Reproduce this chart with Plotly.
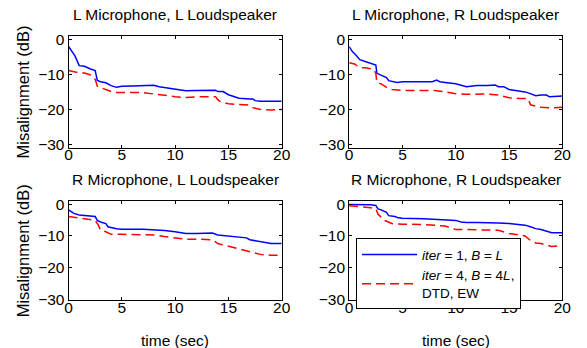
import plotly.graph_objects as go

# ---- data (time in sec, misalignment in dB) ----
t_ll_a = [0, 0.3, 0.6, 1, 1.5, 2, 2.5, 2.7, 3, 3.5, 4, 4.5, 5, 6, 7, 8, 8.5, 9, 10, 11, 12, 13, 13.8, 14, 14.5, 15, 15.5, 16, 17, 17.3, 17.5, 18, 19, 20]
v_ll_a = [-2, -3.3, -4.7, -7.5, -7.7, -8.4, -8.9, -11.7, -12.1, -12.4, -13.2, -13.7, -13.4, -13.3, -13.3, -13.1, -13.5, -13.7, -14.3, -14.7, -14.6, -14.5, -14.5, -14.9, -14.9, -15.8, -16.4, -16.8, -17, -17, -17.5, -17.7, -17.7, -17.7]
t_ll_b = [0, 0.5, 1, 1.5, 2, 2.3, 2.5, 2.7, 3, 3.5, 4, 4.5, 5, 7, 8, 9, 9.5, 10, 11, 12, 13, 13.8, 14, 14.3, 15, 16, 17, 17.3, 18, 19, 20]
v_ll_b = [-8.9, -9.2, -9.6, -9.6, -10.1, -10.7, -11.4, -13.4, -13.8, -14.4, -14.9, -15.2, -15.2, -15.2, -15.6, -15.8, -16.1, -16.4, -16.6, -16.4, -16.4, -16.4, -17.2, -17.9, -18.4, -18.6, -18.8, -19.5, -20, -20.2, -20]

t_lr_a = [0, 0.3, 0.6, 1, 1.5, 2, 2.5, 2.6, 3, 3.5, 3.7, 4.5, 5, 6, 7, 7.8, 8.2, 8.5, 9, 10, 11, 12, 13, 13.7, 14, 14.5, 15, 16, 16.5, 17, 17.5, 18, 18.5, 18.8, 20]
v_lr_a = [-2.1, -3.5, -4.4, -5.8, -6.3, -6.9, -7.3, -9.7, -10.2, -10.9, -11.8, -12.3, -12.1, -12.1, -12.1, -12.1, -11.6, -12.1, -12.3, -12.7, -13.5, -13.2, -13.2, -13.0, -13.5, -13.5, -14.3, -14.8, -15, -15.5, -16.1, -15.9, -15.9, -16.4, -16.2]
t_lr_b = [0, 0.5, 1, 1.5, 2, 2.3, 2.5, 2.6, 3, 3.6, 4, 5, 6, 7, 8, 9, 10, 11, 12, 13, 14, 14.3, 15, 16, 16.8, 17, 18, 19, 20]
v_lr_b = [-6.7, -7, -8.1, -8.1, -8.4, -8.6, -9.7, -12.3, -12.7, -13.9, -14.3, -14.6, -14.6, -14.6, -14.6, -15, -15.5, -15.7, -15.7, -15.6, -15.9, -16.2, -16.7, -16.9, -16.9, -18.7, -19.4, -19.6, -19.4]

t_rl_a = [0, 0.5, 1, 2, 2.5, 2.7, 3, 3.5, 3.7, 4.5, 5, 7, 8, 9, 10, 11, 12, 13, 13.5, 14, 15, 16, 16.7, 17, 18, 19, 20]
v_rl_a = [-1.8, -2.9, -3.4, -3.6, -3.9, -5.1, -5.6, -6.1, -7.1, -7.7, -7.9, -7.9, -8, -8.3, -8.7, -9.2, -9.2, -9.1, -9.1, -9.7, -10, -10.4, -10.6, -11.2, -11.7, -12.4, -12.4]
t_rl_b = [0, 1, 1.5, 2, 2.5, 2.8, 3, 3.5, 4, 5, 7, 8, 9, 10, 11, 12, 13, 13.5, 14, 15, 16, 17, 17.5, 18, 19, 20]
v_rl_b = [-3.9, -4.3, -4.6, -4.9, -5.1, -6.6, -8.2, -8.7, -9.5, -9.5, -9.5, -9.7, -10.2, -10.7, -11, -11, -11, -11.2, -12.4, -13.3, -14.1, -15, -15.5, -15.8, -16.1, -16.1]

t_rr_a = [0, 1, 2, 2.5, 2.7, 3, 3.5, 3.7, 4.3, 4.6, 5, 7, 9, 9.5, 10, 10.5, 11, 12, 13, 14, 15, 16, 16.5, 17, 17.5, 18, 18.5, 19, 20]
v_rr_a = [-0.1, -0.1, -0.2, -0.4, -1.5, -1.8, -2.6, -3.6, -3.9, -4.3, -4.4, -4.6, -4.8, -4.9, -5.1, -5.6, -5.8, -5.8, -5.8, -5.9, -6.1, -6.4, -6.6, -7.1, -7.7, -8, -8.4, -9, -9]
t_rr_b = [0, 1, 2, 2.5, 2.7, 3, 3.3, 4, 4.5, 5, 7, 8, 9, 9.5, 10, 11, 12, 13, 14, 15, 16, 16.5, 17, 17.5, 18, 19, 20]
v_rr_b = [-0.5, -0.7, -1.1, -1.4, -3.1, -4.1, -5.1, -6.1, -6.3, -6.3, -6.4, -6.6, -6.9, -7.4, -8, -8, -8, -8, -8.2, -9.2, -9.7, -10, -11.4, -12.2, -12.4, -13.3, -13.1]

panel_titles = ["L Microphone, L Loudspeaker", "L Microphone, R Loudspeaker",
                "R Microphone, L Loudspeaker", "R Microphone, R Loudspeaker"]
legend_names = ["<i>iter</i> = 1, <i>B</i> = <i>L</i>",
                "<i>iter</i> = 4, <i>B</i> = 4<i>L</i>,<br>DTD, EW"]
x_ticks = [0, 5, 10, 15, 20]
y_ticks = [0, -10, -20, -30]
x_label = "time (sec)"
y_label = "Misalignment (dB)"

series = [(t_ll_a, v_ll_a, t_ll_b, v_ll_b),
          (t_lr_a, v_lr_a, t_lr_b, v_lr_b),
          (t_rl_a, v_rl_a, t_rl_b, v_rl_b),
          (t_rr_a, v_rr_a, t_rr_b, v_rr_b)]

W, H = 587, 348
FONT = "Liberation Sans, Arial, Helvetica, sans-serif"
FS = 15.5

# pixel boxes of the four axes (left, right, top, bottom)
cols = [(66, 284), (353, 571)]
rows = [(32, 148, [-31, 1]), (203, 306, [-30.3, 1])]

fig = go.Figure()
layout = dict(width=W, height=H, margin=dict(l=0, r=0, t=0, b=0),
              paper_bgcolor="white", plot_bgcolor="white",
              font=dict(family=FONT, size=FS, color="black"),
              showlegend=True)
annotations = []

for i, (ta, va, tb, vb) in enumerate(series):
    r, c = divmod(i, 2)
    k = "" if i == 0 else str(i + 1)
    xa, ya = "x" + k, "y" + k
    show = (i == 3)
    fig.add_trace(go.Scatter(x=ta, y=va, mode="lines", xaxis=xa, yaxis=ya,
                             line=dict(color="#0000ff", width=1.5),
                             name=legend_names[0], showlegend=show))
    fig.add_trace(go.Scatter(x=tb, y=vb, mode="lines", xaxis=xa, yaxis=ya,
                             line=dict(color="#ff0000", width=1.5, dash="9px,5px"),
                             name=legend_names[1], showlegend=show))
    x0, x1 = cols[c]
    y0, y1, yr = rows[r]
    common = dict(showgrid=False, zeroline=False, showline=True, linecolor="black",
                  linewidth=1, mirror="allticks", ticks="inside", ticklen=3,
                  tickcolor="black", tickfont=dict(size=FS, family=FONT))
    layout["xaxis" + k] = dict(domain=[x0 / W, x1 / W], range=[0, 20],
                               tickvals=x_ticks, anchor=ya, ticklabelstandoff=-7,
                               **common)
    layout["yaxis" + k] = dict(domain=[1 - y1 / H, 1 - y0 / H], range=yr,
                               tickvals=y_ticks, anchor=xa, **common)
    annotations.append(dict(text=panel_titles[i], x=(x0 + x1) / 2 / W,
                            y=1 - (y0 - 22) / H, xref="paper", yref="paper",
                            xanchor="center", yanchor="middle", showarrow=False,
                            font=dict(size=FS)))
    if c == 0:
        annotations.append(dict(text=y_label, x=19 / W, y=1 - (y0 + y1) / 2 / H,
                                xref="paper", yref="paper", textangle=-90,
                                xanchor="center", yanchor="middle", showarrow=False,
                                font=dict(size=16.5)))
    if r == 1:
        annotations.append(dict(text=x_label, x=(x0 + x1) / 2 / W, y=1 - 347 / H,
                                xref="paper", yref="paper", xanchor="center",
                                yanchor="middle", showarrow=False, font=dict(size=FS)))

layout["annotations"] = annotations
layout["legend"] = dict(x=360 / W, y=1 - 315 / H, xanchor="left", yanchor="bottom",
                        bgcolor="white", bordercolor="black", borderwidth=1,
                        font=dict(size=13.5), tracegroupgap=0, itemwidth=55)
fig.update_layout(**layout)
fig.write_html("out.html")
